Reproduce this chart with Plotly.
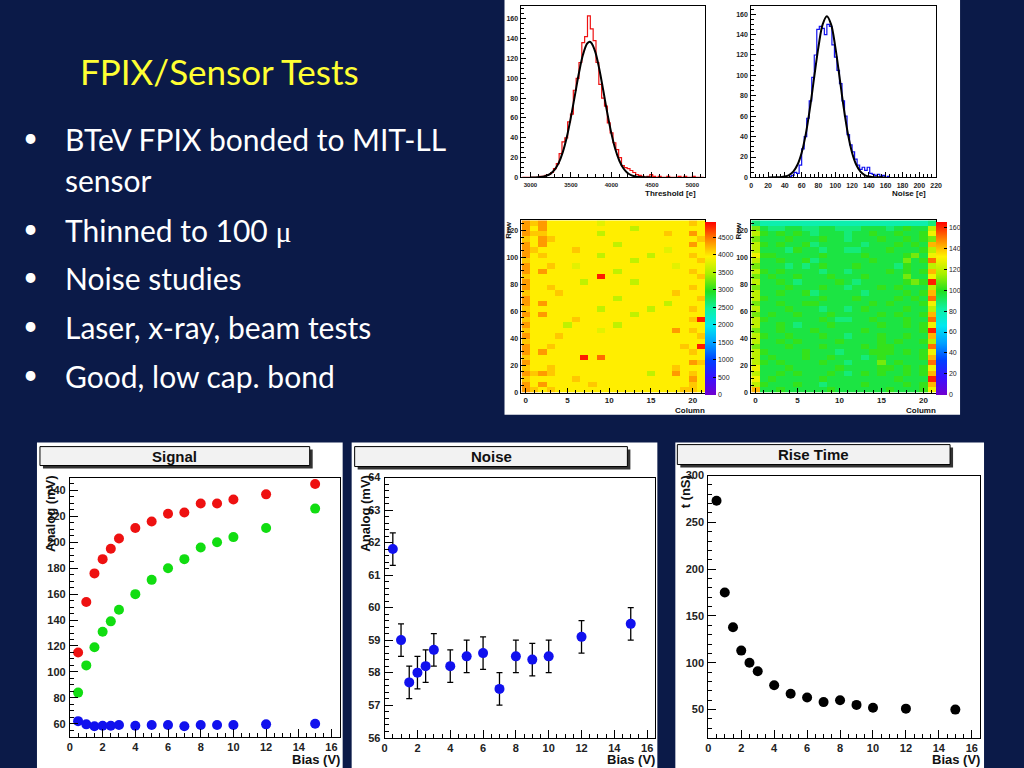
import plotly.graph_objects as go

# ---------------- data ----------------
bias_v = [0.5, 1, 1.5, 2, 2.5, 3, 4, 5, 6, 7, 8, 9, 10, 12, 15]
signal_red = [115, 154, 176, 187, 195, 203, 211, 216, 222, 223, 230, 230, 233, 237, 245]
signal_green = [84, 105, 119, 131, 139, 148, 160, 171, 180, 187, 196, 200, 204, 211, 226]
signal_blue = [62, 59.5, 58, 58.5, 58.5, 59, 58.5, 59, 59, 58, 59, 59, 59, 59.5, 60]
noise_mv = [61.8, 59.0, 57.7, 58.0, 58.2, 58.7, 58.2, 58.5, 58.6, 57.5, 58.5, 58.4, 58.5, 59.1, 59.5]
noise_mv_err = [0.5, 0.5, 0.5, 0.5, 0.5, 0.5, 0.5, 0.5, 0.5, 0.5, 0.5, 0.5, 0.5, 0.5, 0.5]
rise_ns = [273, 175, 138, 113, 100, 91, 76, 67, 63, 58, 60, 55, 52, 51, 50]

# threshold histogram (bins of 35 e starting at 2900 e)
thr_bin_start = 2900
thr_bin_width = 35
thr_counts = [0, 0, 0, 0, 0, 0, 1, 1, 2, 3, 5, 9, 14, 24, 36, 40, 56, 64, 88, 100,
              116, 136, 142, 163, 150, 138, 116, 94, 80, 72, 55, 45, 35, 28, 20, 12, 10, 9, 7, 5,
              3, 2, 1, 0, 1, 3, 1, 0, 1, 0, 0, 1, 0, 0, 0, 1, 0, 1, 0, 0,
              1, 0, 0, 0]
thr_fit_x = [3000, 3100, 3150, 3200, 3250, 3300, 3350, 3400, 3450, 3500, 3550, 3600, 3650,
             3700, 3730, 3750, 3800, 3850, 3900, 3950, 4000, 4050, 4100, 4150, 4200, 4250,
             4300, 4350, 4400, 4500]
thr_fit_y = [0, 0.3, 0.8, 1.8, 3.9, 7.9, 14.7, 25.5, 40.8, 60.6, 83.1, 105.6, 124,
             135, 137, 136, 127, 109.7, 87.7, 64.9, 44.5, 28.2, 16.6, 9.0, 4.5, 2.1,
             0.9, 0.4, 0.1, 0]

# noise histogram (bins of 3 e starting at 45 e)
nhist_bin_start = 45
nhist_bin_width = 3
nhist_counts = [1, 2, 5, 4, 12, 28, 40, 58, 75, 98, 120, 145, 148, 146, 140, 150, 148, 130,
                118, 105, 92, 75, 60, 42, 32, 25, 18, 12, 8, 10, 7, 10, 4, 3, 2, 3, 1, 2, 0, 1]
nhist_fit_x = [20, 30, 35, 40, 45, 50, 55, 60, 65, 70, 75, 80, 85, 90, 95, 100, 105, 110,
               115, 120, 125, 130, 135, 140, 145, 150, 160]
nhist_fit_y = [0, 0.1, 0.3, 0.9, 2.3, 5.7, 12.4, 24.3, 43, 68.7, 98.9, 128, 150, 158, 150,
               128, 98.9, 68.7, 43, 24.3, 12.4, 5.7, 2.3, 0.9, 0.3, 0.1, 0]

# threshold map: 22 columns x 32 row-blocks (4 rows each), top block first
thr_map_codes = {"1": 3200, "2": 3400, "3": 3600, "4": 3800, "5": 3980,
                 "6": 4150, "7": 4350, "8": 4550, "9": 4850}
thr_map_rows = [
    "76755 55554 55555 55555 65",
    "75755 55555 55535 55555 55",
    "76655 55553 55555 55655 75",
    "65765 55555 55555 55555 56",
    "75755 55555 53555 55555 75",
    "76555 56555 55555 55455 55",
    "75655 55553 55555 35555 65",
    "65555 55555 55535 55555 56",
    "75565 54555 55555 55545 55",
    "75755 55555 53555 55555 65",
    "65555 55559 55555 55555 56",
    "75555 55355 55535 55555 55",
    "75565 55555 55555 55555 65",
    "65556 55555 55555 55565 55",
    "75555 55555 53555 55555 56",
    "75755 55555 55555 55355 55",
    "65555 55553 55555 35555 65",
    "75755 55555 55535 55555 55",
    "65555 56555 55555 55555 69",
    "75555 35555 53555 55555 55",
    "65555 55554 55555 55575 65",
    "75556 55555 55555 55555 56",
    "65555 55555 55555 55555 55",
    "75565 55555 55555 55556 59",
    "75755 55555 55555 55555 65",
    "65555 55958 55555 55555 55",
    "75555 55555 55555 55555 76",
    "65565 55555 55555 55565 55",
    "76765 55555 55555 35575 65",
    "65555 56555 55555 55555 75",
    "75755 55565 55555 55555 65",
    "76565 55555 55555 55556 65",
]

# noise map: 22 columns x 32 row-blocks, top block first
noise_map_codes = {"0": 62, "1": 72, "2": 80, "3": 88, "4": 95, "5": 102, "6": 110,
                   "7": 120, "8": 130, "9": 142, "a": 152, "b": 162}
noise_map_rows = [
    "32222 22222 22222 22222 23",
    "64334 43344 33344 43454 47",
    "75454 54344 43445 44544 58",
    "64445 44454 43444 54454 56",
    "75454 45344 44434 44545 49",
    "74443 54434 43344 45444 57",
    "85544 44454 44454 44456 48",
    "74454 45344 44445 44464 5a",
    "64443 43454 44544 44354 47",
    "75454 44434 43444 45454 59",
    "64544 54445 44454 44464 48",
    "74454 34444 54344 44456 5b",
    "64445 44454 43444 54544 47",
    "74454 45344 44434 44454 59",
    "75444 44454 44544 44545 4a",
    "64454 45544 44445 45444 58",
    "74445 44434 43454 44454 47",
    "64544 54445 44444 54544 59",
    "75444 44454 33445 44454 4a",
    "74454 34445 44444 54454 58",
    "64454 44544 44454 44444 5b",
    "75445 44454 43444 54454 49",
    "74454 54444 54444 54544 57",
    "64445 44454 44454 55444 4a",
    "75444 45444 34445 55454 58",
    "74544 45445 44434 54444 59",
    "75454 44454 43444 64544 4a",
    "84445 44444 54444 55454 58",
    "74454 54445 43454 54454 59",
    "84544 44454 44444 44544 4b",
    "75444 54434 44454 44454 59",
    "94454 44445 44444 45444 58",
]

slide_title = "FPIX/Sensor Tests"
bullets = [
    ("BTeV FPIX bonded to MIT-LL", 140, True),
    ("sensor", 182, False),
    ("Thinned to 100 <span style=\"font-family:'Liberation Serif'\">\u03bc</span>", 232, True),
    ("Noise studies", 280, True),
    ("Laser, x-ray, beam tests", 329, True),
    ("Good, low cap. bond", 378, True),
]

# ---------------- helpers ----------------
W, H = 1024, 768
BG = "#0b1a48"
# small correction for the offset/scale observed between layout pixels and the photographed page
OX, OY = 2.0, 5.0
SX, SY = (W - 8.0) / W, 0.9875


def px(x):
    return ((x - OX) / SX) / W


def py(y):
    return 1 - ((y - OY) / SY) / H


def dom(a, b):
    return [max(0.0, min(a, b)), min(1.0, max(a, b))]


def decode(rows, codes):
    grid = []
    for r in rows[::-1]:
        s = r.replace(" ", "")
        grid.append([codes[c] for c in s])
    return grid


def axis(d, rng, dtick, mdtick, anchor, fs=11, tl=8, mtl=4, standoff=1):
    return dict(domain=d, range=rng, anchor=anchor, showline=True, mirror=True,
                linecolor="black", linewidth=1, ticks="inside", ticklen=tl, tickcolor="black",
                tick0=0, dtick=dtick, showgrid=False, zeroline=False, ticklabelstandoff=standoff,
                minor=dict(ticks="inside", ticklen=mtl, dtick=mdtick, tickcolor="black", showgrid=False),
                tickfont=dict(family="Liberation Sans", size=fs, color="#222222", weight="bold"))


pretty = [[0.0, "#7000d0"], [0.1, "#3a10ff"], [0.2, "#0040ff"], [0.3, "#00a0ff"],
          [0.4, "#00e8f0"], [0.5, "#10f0a0"], [0.6, "#20e020"], [0.7, "#a8f000"],
          [0.8, "#fff200"], [0.86, "#ffb000"], [0.92, "#ff6a00"], [1.0, "#ff0000"]]

fig = go.Figure()

# ---- bottom plots ----
fig.add_trace(go.Scatter(x=bias_v, y=signal_red, mode="markers", xaxis="x", yaxis="y",
                         marker=dict(size=10, color="#ee1111")))
fig.add_trace(go.Scatter(x=bias_v, y=signal_green, mode="markers", xaxis="x", yaxis="y",
                         marker=dict(size=10, color="#11dd11")))
fig.add_trace(go.Scatter(x=bias_v, y=signal_blue, mode="markers", xaxis="x", yaxis="y",
                         marker=dict(size=10, color="#1111ee")))
fig.add_trace(go.Scatter(x=bias_v, y=noise_mv, mode="markers", xaxis="x2", yaxis="y2",
                         marker=dict(size=10, color="#1111ee"),
                         error_y=dict(type="data", array=noise_mv_err, color="black",
                                      thickness=1.3, width=3)))
fig.add_trace(go.Scatter(x=bias_v, y=rise_ns, mode="markers", xaxis="x3", yaxis="y3",
                         marker=dict(size=10, color="black")))

# ---- top histograms ----
thr_edges = [thr_bin_start + thr_bin_width * i for i in range(len(thr_counts) + 1)]
fig.add_trace(go.Scatter(x=thr_edges, y=thr_counts + [thr_counts[-1]], mode="lines",
                         xaxis="x4", yaxis="y4", line=dict(shape="hv", color="#ee1111", width=1.2)))
fig.add_trace(go.Scatter(x=thr_fit_x, y=thr_fit_y, mode="lines", xaxis="x4", yaxis="y4",
                         line=dict(shape="spline", color="black", width=2)))
n_edges = [nhist_bin_start + nhist_bin_width * i for i in range(len(nhist_counts) + 1)]
fig.add_trace(go.Scatter(x=n_edges, y=nhist_counts + [nhist_counts[-1]], mode="lines",
                         xaxis="x5", yaxis="y5", line=dict(shape="hv", color="#1111ee", width=1.2)))
fig.add_trace(go.Scatter(x=nhist_fit_x, y=nhist_fit_y, mode="lines", xaxis="x5", yaxis="y5",
                         line=dict(shape="spline", color="black", width=2)))

# ---- maps ----
cb_font = dict(family="Liberation Sans", size=7, color="#222")
cb_len = py(221) - py(395)
fig.add_trace(go.Heatmap(z=decode(thr_map_rows, thr_map_codes), x0=0, dx=1, y0=1.5, dy=4,
                         xaxis="x6", yaxis="y6", zmin=0, zmax=4950, colorscale=pretty,
                         colorbar=dict(x=px(705), xanchor="left", y=py(308), yanchor="middle",
                                       len=cb_len, lenmode="fraction", thickness=11,
                                       thicknessmode="pixels", xpad=0, ypad=0, outlinewidth=0,
                                       tickvals=[0, 500, 1000, 1500, 2000, 2500, 3000, 3500, 4000, 4500],
                                       ticks="inside", ticklen=3, tickcolor="black", tickfont=cb_font)))
fig.add_trace(go.Heatmap(z=decode(noise_map_rows, noise_map_codes), x0=0, dx=1, y0=1.5, dy=4,
                         xaxis="x7", yaxis="y7", zmin=0, zmax=166, colorscale=pretty,
                         colorbar=dict(x=px(936), xanchor="left", y=py(308), yanchor="middle",
                                       len=cb_len, lenmode="fraction", thickness=11,
                                       thicknessmode="pixels", xpad=0, ypad=0, outlinewidth=0,
                                       tickvals=[0, 20, 40, 60, 80, 100, 120, 140, 160],
                                       ticks="inside", ticklen=3, tickcolor="black", tickfont=cb_font)))

layout_axes = dict(
    xaxis=axis(dom(px(69), px(339)), [0, 16.5], 2, 0.5, "y", standoff=0),
    yaxis=axis(dom(py(738), py(478)), [50, 250], 20, 5, "x"),
    xaxis2=axis(dom(px(384), px(655)), [0, 16.5], 2, 0.5, "y2", standoff=0),
    yaxis2=axis(dom(py(739), py(478)), [56, 64], 1, 0.2, "x2"),
    xaxis3=axis(dom(px(708), px(980)), [0, 16.5], 2, 0.5, "y3", standoff=0),
    yaxis3=axis(dom(py(739), py(476)), [20, 300], 50, 10, "x3"),
    xaxis4=axis(dom(px(521), px(705)), [2890, 5160], 500, 100, "y4", fs=6, tl=5, mtl=3),
    yaxis4=axis(dom(py(177), py(2)), [0, 173], 20, 5, "x4", fs=7, tl=5, mtl=3),
    xaxis5=axis(dom(px(751), px(936)), [0, 220], 20, 5, "y5", fs=7, tl=5, mtl=3),
    yaxis5=axis(dom(py(177), py(2)), [0, 168], 20, 5, "x5", fs=7, tl=5, mtl=3),
    xaxis6=axis(dom(px(521), px(705)), [-0.5, 21.5], 5, 1, "y6", fs=8, tl=5, mtl=3, standoff=0),
    yaxis6=axis(dom(py(393), py(220)), [-0.5, 127.5], 20, 5, "x6", fs=7, tl=5, mtl=3),
    xaxis7=axis(dom(px(751), px(936)), [-0.5, 21.5], 5, 1, "y7", fs=8, tl=5, mtl=3, standoff=0),
    yaxis7=axis(dom(py(393), py(220)), [-0.5, 127.5], 20, 5, "x7", fs=7, tl=5, mtl=3),
)

shapes = []
# white pads
for (x0, y0, x1, y1) in [(504, -10, 960, 415), (36, 443, 342, 780), (351, 443, 657, 780), (675, 443, 984, 780)]:
    shapes.append(dict(type="rect", xref="paper", yref="paper", x0=px(x0), x1=px(x1), y0=py(y1), y1=py(y0),
                       fillcolor="white", line=dict(width=0), layer="below"))
# ROOT title boxes with shadow
boxes = [("Signal", 39, 447, 309, 466), ("Noise", 354, 447, 627, 467), ("Rise Time", 677, 445, 950, 465)]
annotations = []
for (txt, x0, y0, x1, y1) in boxes:
    shapes.append(dict(type="rect", xref="paper", yref="paper", x0=px(x0 + 3), x1=px(x1 + 3),
                       y0=py(y1 + 3), y1=py(y0 + 3), fillcolor="#333333", line=dict(width=0)))
    shapes.append(dict(type="rect", xref="paper", yref="paper", x0=px(x0), x1=px(x1),
                       y0=py(y1), y1=py(y0), fillcolor="#f2f2f2", line=dict(color="black", width=1)))
    annotations.append(dict(text="<b>" + txt + "</b>", xref="paper", yref="paper", x=px((x0 + x1) / 2),
                            y=py((y0 + y1) / 2), xanchor="center", yanchor="middle", showarrow=False,
                            font=dict(family="Liberation Sans", size=15, color="#111")))


def note(text, x, y, size, xa="center", ya="middle", angle=0, color="#111", family="Liberation Sans"):
    annotations.append(dict(text=text, xref="paper", yref="paper", x=px(x), y=py(y), xanchor=xa,
                            yanchor=ya, textangle=angle, showarrow=False,
                            font=dict(family=family, size=size, color=color)))


# axis titles (ROOT style)
note("<b>Analog (mV)</b>", 49, 473, 13, ya="top", angle=-90)
note("<b>Analog (mV)</b>", 364, 473, 13, ya="top", angle=-90)
note("<b>t (nS)</b>", 685, 474, 13, ya="top", angle=-90)
for xr in (341, 657, 982):
    note("<b>Bias (V)</b>", xr, 761, 13, xa="right")
note("<b>Threshold [e]</b>", 698, 193, 8, xa="right")
note("<b>Noise [e]</b>", 928, 193, 8, xa="right")
note("<b>Row</b>", 508, 219, 8, ya="top", angle=-90)
note("<b>Row</b>", 738, 219, 8, ya="top", angle=-90)
note("<b>Column</b>", 707, 411, 8, xa="right")
note("<b>Column</b>", 938, 411, 8, xa="right")

# slide text
note(slide_title, 77, 70, 35, xa="left", color="#ffff33", family="Lato")
for (txt, yy, has_bullet) in bullets:
    if has_bullet:
        note("\u2022", 30, yy - 4, 26, color="white", family="Lato")
    note(txt, 62, yy - 2, 30, xa="left", color="white", family="Lato")

fig.update_layout(width=W, height=H, margin=dict(l=0, r=0, t=0, b=0), paper_bgcolor=BG,
                  plot_bgcolor="white", showlegend=False, shapes=shapes, annotations=annotations,
                  **layout_axes)

fig.write_html("out.html", config={"displayModeBar": False},
               post_script="document.body.style.margin='0';document.body.style.padding='0';"
                           "document.body.style.overflow='hidden';")
